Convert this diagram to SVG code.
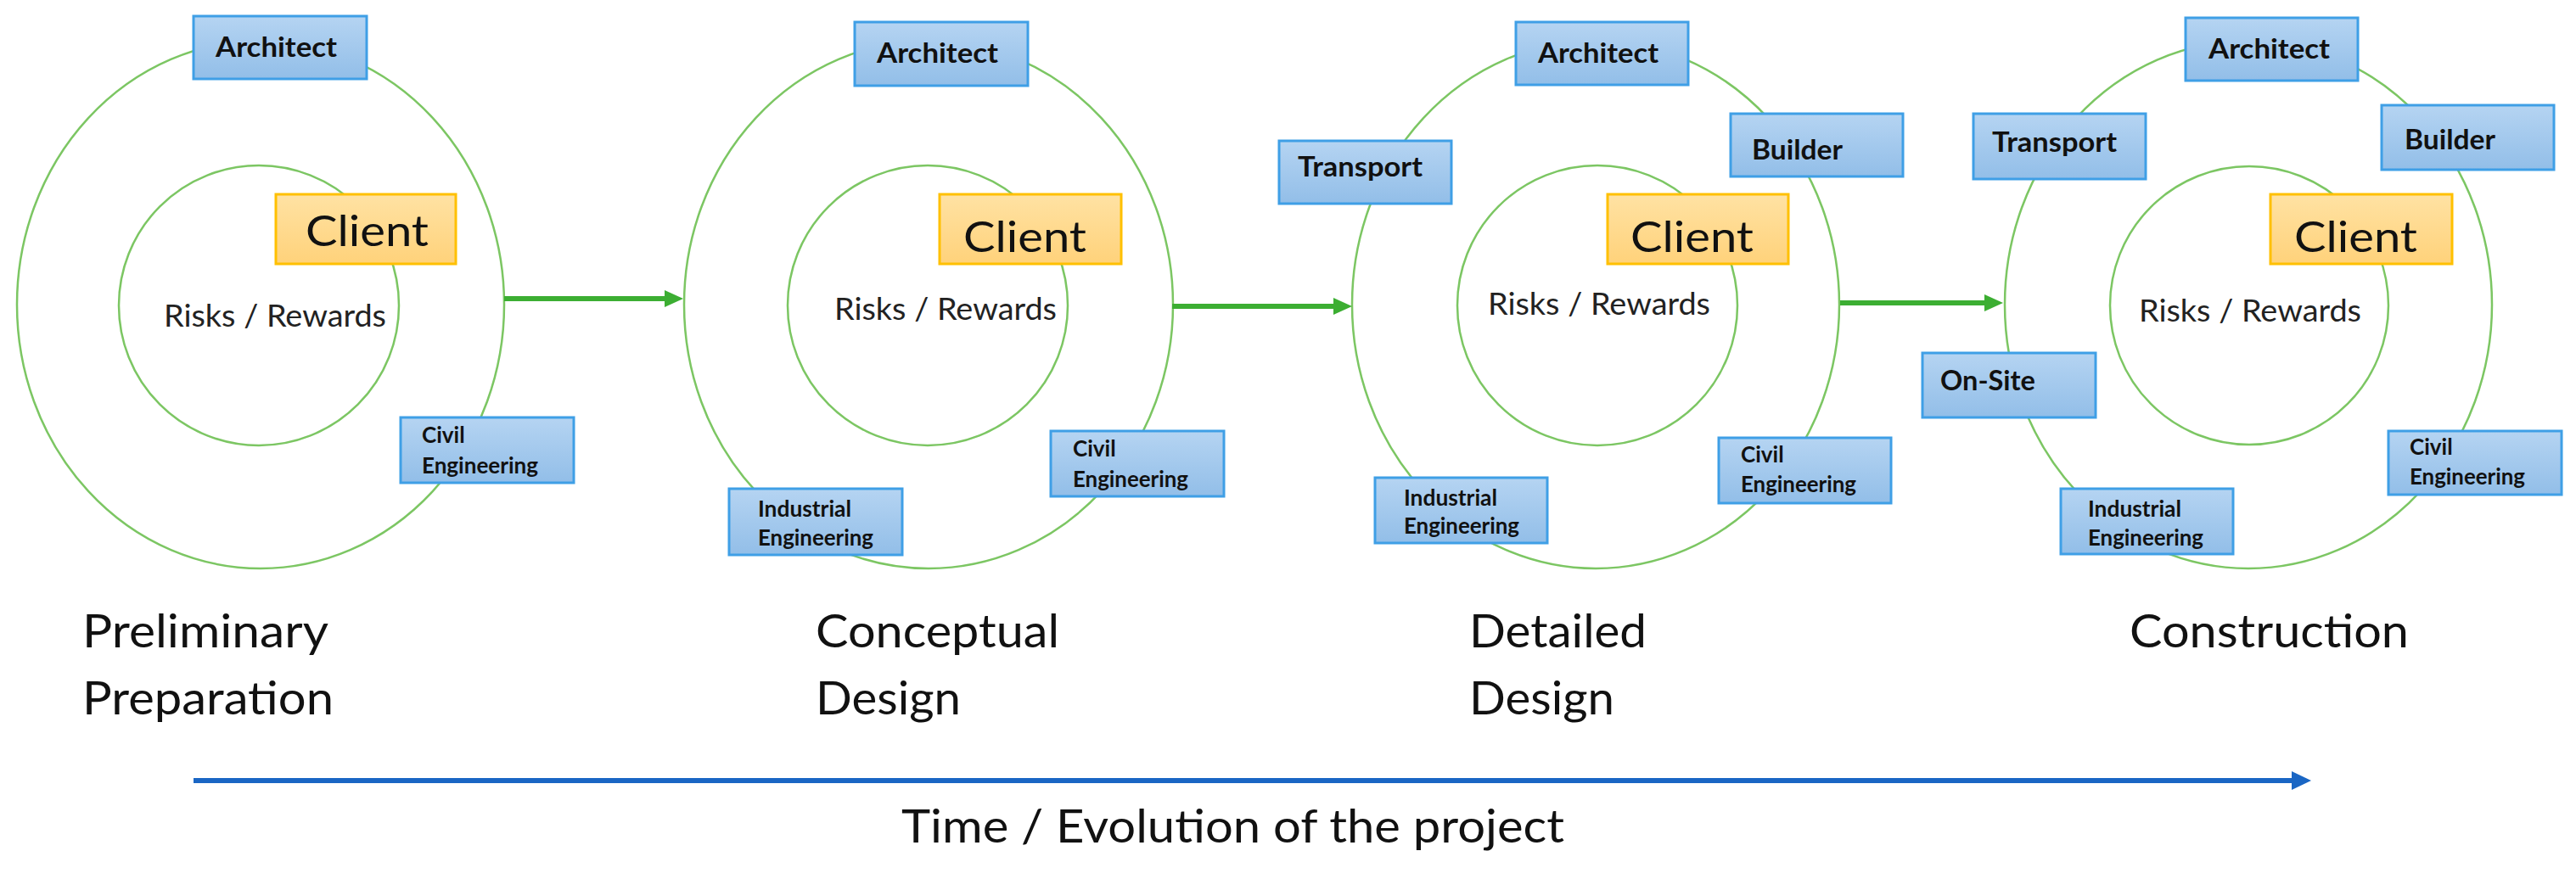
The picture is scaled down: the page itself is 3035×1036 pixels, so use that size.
<svg xmlns="http://www.w3.org/2000/svg" width="3035" height="1036" viewBox="0 0 3035 1036">
<style>
.ring{fill:none;stroke:#7cc663;stroke-width:2.5}
.box{fill:url(#gBlue);stroke:#3f9fe6;stroke-width:3}
.cbox{fill:url(#gGold);stroke:#ffc000;stroke-width:3}
.bl{font-family:Lato,"Open Sans",sans-serif;font-weight:700;font-size:33px;fill:#111}
.sl{font-family:Lato,"Open Sans",sans-serif;font-weight:700;font-size:26px;fill:#111}
.cl{font-family:Lato,"Open Sans",sans-serif;font-size:51px;fill:#111}
.rr{font-family:Lato,"Open Sans",sans-serif;font-size:37px;fill:#222}
.ph{font-family:Lato,"Open Sans",sans-serif;font-size:54px;fill:#111}
.garrow{stroke:#3cae32;stroke-width:6;fill:none}
.barrow{stroke:#1a66c4;stroke-width:6;fill:none}
</style>
<defs>
<linearGradient id="gBlue" x1="0" y1="0" x2="0" y2="1">
<stop offset="0" stop-color="#b5d4f2"/><stop offset="1" stop-color="#92bee8"/>
</linearGradient>
<linearGradient id="gGold" x1="0" y1="0" x2="0" y2="1">
<stop offset="0" stop-color="#ffe2a3"/><stop offset="1" stop-color="#ffd27a"/>
</linearGradient>
<marker id="mG" viewBox="0 0 22 20" refX="0" refY="10" markerWidth="22" markerHeight="20" markerUnits="userSpaceOnUse" orient="auto">
<path d="M0,0 L22,10 L0,20 z" fill="#3cae32"/>
</marker>
<marker id="mB" viewBox="0 0 23 22" refX="0" refY="11" markerWidth="23" markerHeight="22" markerUnits="userSpaceOnUse" orient="auto">
<path d="M0,0 L23,11 L0,22 z" fill="#1a66c4"/>
</marker>
</defs>
<rect width="3035" height="1036" fill="#fff"/>

<g id="rings">
<ellipse class="ring" cx="307" cy="359" rx="287" ry="311"/>
<circle class="ring" cx="305" cy="360" r="165"/>
<ellipse class="ring" cx="1094" cy="359" rx="288" ry="311"/>
<circle class="ring" cx="1093" cy="360" r="165"/>
<ellipse class="ring" cx="1880" cy="359" rx="287" ry="311"/>
<circle class="ring" cx="1882" cy="360" r="165"/>
<ellipse class="ring" cx="2649" cy="359" rx="287" ry="311"/>
<circle class="ring" cx="2650" cy="360" r="164"/>
</g>

<g id="connectors">
<path class="garrow" d="M594,352 H783" marker-end="url(#mG)"/>
<path class="garrow" d="M1381,361 H1571" marker-end="url(#mG)"/>
<path class="garrow" d="M2168,357 H2338" marker-end="url(#mG)"/>
<path class="barrow" d="M228,920 H2700" marker-end="url(#mB)"/>
</g>

<!-- Stage 1 -->
<g id="p1-risks"><text class="rr" x="193" y="385" textLength="262" lengthAdjust="spacingAndGlyphs">Risks / Rewards</text></g>
<g id="p1-architect"><rect class="box" x="228" y="19" width="204" height="74"/><text class="bl" x="254" y="67" textLength="143" lengthAdjust="spacingAndGlyphs">Architect</text></g>
<g id="p1-client"><rect class="cbox" x="325" y="229" width="212" height="82"/><text class="cl" x="360" y="290" textLength="145" lengthAdjust="spacingAndGlyphs">Client</text></g>
<g id="p1-civil"><rect class="box" x="472" y="492" width="204" height="77"/><text class="sl" x="497" y="522">Civil</text><text class="sl" x="497" y="558" textLength="137" lengthAdjust="spacingAndGlyphs">Engineering</text></g>

<!-- Stage 2 -->
<g id="p2-risks"><text class="rr" x="983" y="377" textLength="262" lengthAdjust="spacingAndGlyphs">Risks / Rewards</text></g>
<g id="p2-architect"><rect class="box" x="1007" y="26" width="204" height="75"/><text class="bl" x="1033" y="74" textLength="143" lengthAdjust="spacingAndGlyphs">Architect</text></g>
<g id="p2-client"><rect class="cbox" x="1107" y="229" width="214" height="82"/><text class="cl" x="1135" y="297" textLength="145" lengthAdjust="spacingAndGlyphs">Client</text></g>
<g id="p2-civil"><rect class="box" x="1238" y="508" width="204" height="77"/><text class="sl" x="1264" y="538">Civil</text><text class="sl" x="1264" y="574" textLength="136" lengthAdjust="spacingAndGlyphs">Engineering</text></g>
<g id="p2-industrial"><rect class="box" x="859" y="576" width="204" height="78"/><text class="sl" x="893" y="609" textLength="110" lengthAdjust="spacingAndGlyphs">Industrial</text><text class="sl" x="893" y="643" textLength="136" lengthAdjust="spacingAndGlyphs">Engineering</text></g>

<!-- Stage 3 -->
<g id="p3-risks"><text class="rr" x="1753" y="371" textLength="262" lengthAdjust="spacingAndGlyphs">Risks / Rewards</text></g>
<g id="p3-architect"><rect class="box" x="1786" y="26" width="203" height="74"/><text class="bl" x="1812" y="74" textLength="142" lengthAdjust="spacingAndGlyphs">Architect</text></g>
<g id="p3-transport"><rect class="box" x="1507" y="166" width="203" height="74"/><text class="bl" x="1529" y="208" textLength="147" lengthAdjust="spacingAndGlyphs">Transport</text></g>
<g id="p3-builder"><rect class="box" x="2039" y="134" width="203" height="74"/><text class="bl" x="2064" y="188" textLength="107" lengthAdjust="spacingAndGlyphs">Builder</text></g>
<g id="p3-client"><rect class="cbox" x="1894" y="229" width="213" height="82"/><text class="cl" x="1921" y="297" textLength="145" lengthAdjust="spacingAndGlyphs">Client</text></g>
<g id="p3-civil"><rect class="box" x="2025" y="516" width="203" height="77"/><text class="sl" x="2051" y="545">Civil</text><text class="sl" x="2051" y="580" textLength="136" lengthAdjust="spacingAndGlyphs">Engineering</text></g>
<g id="p3-industrial"><rect class="box" x="1620" y="563" width="203" height="77"/><text class="sl" x="1654" y="596" textLength="110" lengthAdjust="spacingAndGlyphs">Industrial</text><text class="sl" x="1654" y="629" textLength="136" lengthAdjust="spacingAndGlyphs">Engineering</text></g>

<!-- Stage 4 -->
<g id="p4-risks"><text class="rr" x="2520" y="379" textLength="262" lengthAdjust="spacingAndGlyphs">Risks / Rewards</text></g>
<g id="p4-architect"><rect class="box" x="2575" y="21" width="203" height="74"/><text class="bl" x="2602" y="69" textLength="143" lengthAdjust="spacingAndGlyphs">Architect</text></g>
<g id="p4-transport"><rect class="box" x="2325" y="134" width="203" height="77"/><text class="bl" x="2347" y="179" textLength="147" lengthAdjust="spacingAndGlyphs">Transport</text></g>
<g id="p4-builder"><rect class="box" x="2806" y="124" width="203" height="76"/><text class="bl" x="2833" y="176" textLength="107" lengthAdjust="spacingAndGlyphs">Builder</text></g>
<g id="p4-onsite"><rect class="box" x="2265" y="416" width="204" height="76"/><text class="bl" x="2286" y="460" textLength="112" lengthAdjust="spacingAndGlyphs">On-Site</text></g>
<g id="p4-client"><rect class="cbox" x="2675" y="229" width="214" height="82"/><text class="cl" x="2703" y="297" textLength="145" lengthAdjust="spacingAndGlyphs">Client</text></g>
<g id="p4-civil"><rect class="box" x="2814" y="508" width="204" height="75"/><text class="sl" x="2839" y="536">Civil</text><text class="sl" x="2839" y="571" textLength="136" lengthAdjust="spacingAndGlyphs">Engineering</text></g>
<g id="p4-industrial"><rect class="box" x="2428" y="576" width="203" height="77"/><text class="sl" x="2460" y="609" textLength="110" lengthAdjust="spacingAndGlyphs">Industrial</text><text class="sl" x="2460" y="643" textLength="136" lengthAdjust="spacingAndGlyphs">Engineering</text></g>

<!-- Phase labels -->
<g id="phase1"><text class="ph" x="97" y="763" textLength="290" lengthAdjust="spacingAndGlyphs">Preliminary</text><text class="ph" x="97" y="842" textLength="296" lengthAdjust="spacingAndGlyphs">Preparation</text></g>
<g id="phase2"><text class="ph" x="961" y="763" textLength="287" lengthAdjust="spacingAndGlyphs">Conceptual</text><text class="ph" x="961" y="842" textLength="171" lengthAdjust="spacingAndGlyphs">Design</text></g>
<g id="phase3"><text class="ph" x="1731" y="763" textLength="209" lengthAdjust="spacingAndGlyphs">Detailed</text><text class="ph" x="1731" y="842" textLength="171" lengthAdjust="spacingAndGlyphs">Design</text></g>
<g id="phase4"><text class="ph" x="2509" y="763" textLength="329" lengthAdjust="spacingAndGlyphs">Construction</text></g>
<g id="timeline-label"><text class="ph" x="1062" y="993" textLength="781" lengthAdjust="spacingAndGlyphs">Time / Evolution of the project</text></g>
</svg>
